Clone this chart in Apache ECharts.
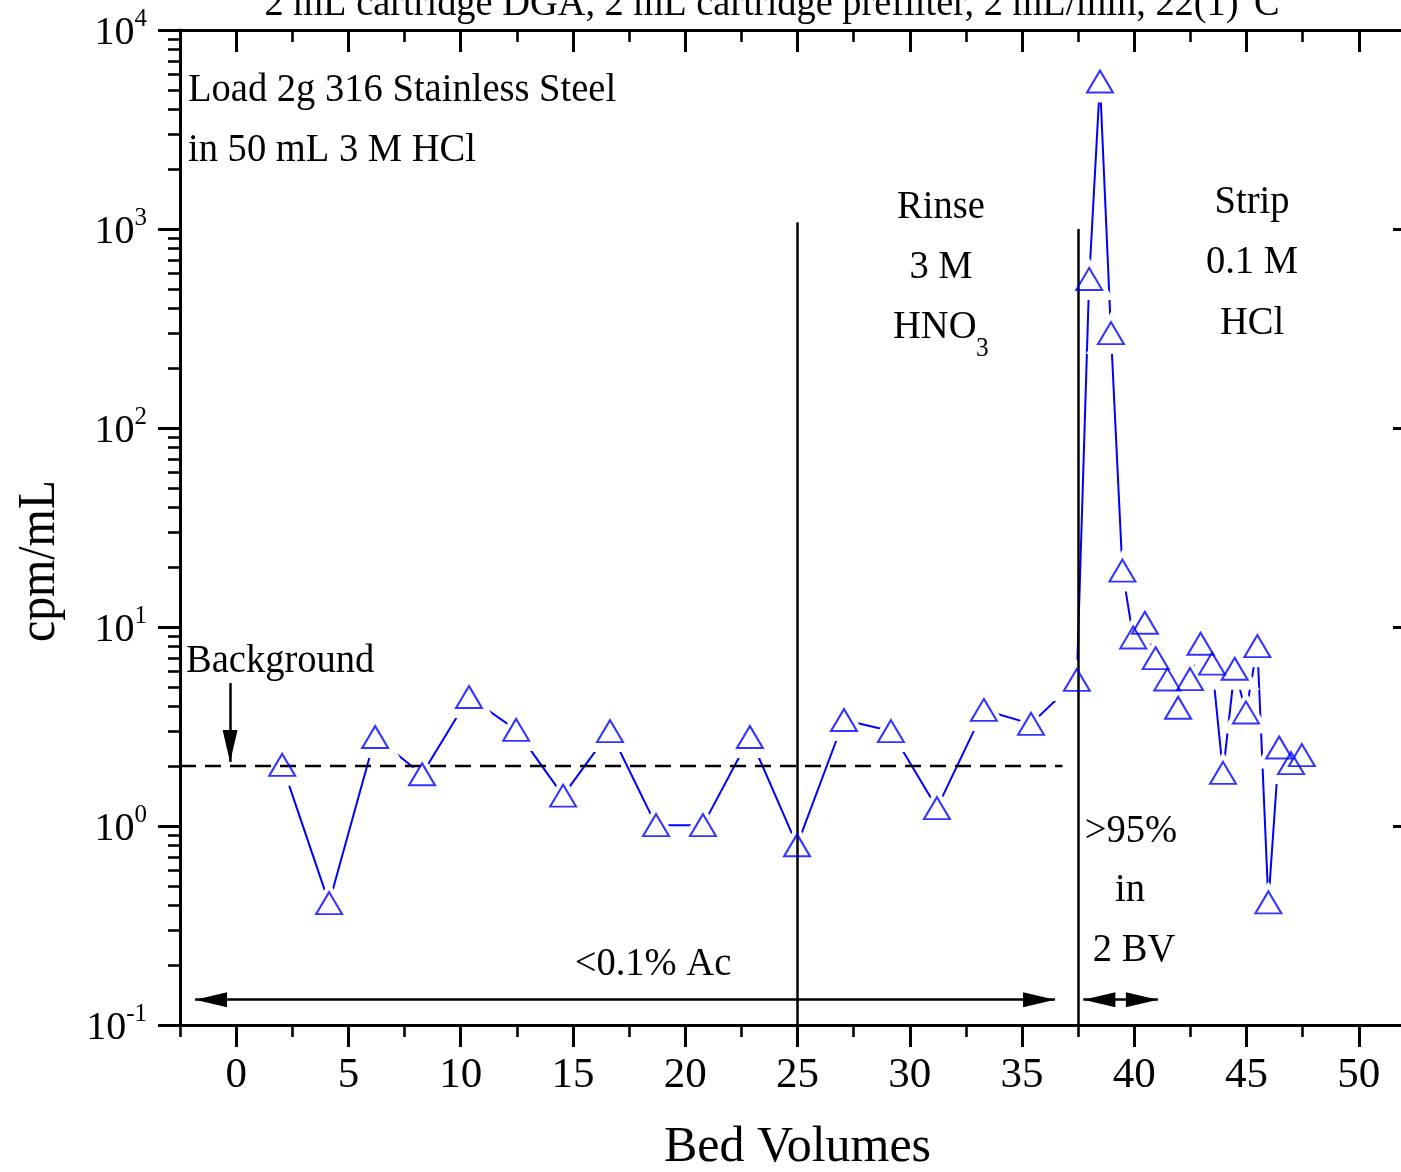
<!DOCTYPE html>
<html>
<head>
<meta charset="utf-8">
<script src="https://cdn.jsdelivr.net/npm/echarts@6/dist/echarts.min.js"></script>
<style>
  html, body { margin: 0; padding: 0; background: #ffffff; }
  #chart { width: 1401px; height: 1172px; }
</style>
</head>
<body>
<div id="chart"></div>
<script>
// Bed volumes passed through the cartridge and measured activity of each fraction
const bedVolumes = [
  2.05, 4.14, 6.19, 8.28, 10.37, 12.47, 14.56, 16.65, 18.70, 20.79,
  22.88, 24.98, 27.07, 29.16, 31.21, 33.30, 35.40, 37.44,
  37.99, 38.47, 38.96, 39.47, 39.95, 40.47, 40.95, 41.47, 41.95, 42.48,
  42.95, 43.46, 43.95, 44.47, 44.97, 45.48, 45.97, 46.45, 46.98, 47.46
];
const activity = [
  2.03, 0.41, 2.80, 1.82, 4.45, 3.04, 1.42, 3.00, 1.01, 1.01,
  2.80, 0.80, 3.41, 3.00, 1.23, 3.83, 3.26, 5.42,
  561, 5510, 300, 19.2, 8.86, 10.5, 6.97, 5.45, 3.93, 5.47,
  8.24, 6.54, 1.85, 6.17, 3.72, 8.01, 0.413, 2.48, 2.07, 2.27
];

// Background count rate and the span it is drawn over
const backgroundLevel = 2.0;
const backgroundSpan = [-2.5, 36.8];

// Load / rinse and rinse / strip boundaries (bed volume, top of line)
const phaseBoundaries = [[25, 1080], [37.5, 1000]];

// Axis ticks
const xMajorTicks = [0, 5, 10, 15, 20, 25, 30, 35, 40, 45, 50];
const xMinorTicks = [-2.5, 2.5, 7.5, 12.5, 17.5, 22.5, 27.5, 32.5, 37.5, 42.5, 47.5, 52.5];
const yMajorTicks = [0.1, 1, 10, 100, 1000, 10000];
const yTickExponents = ['-1', '0', '1', '2', '3', '4'];
const yMinorTicks = [
  0.2, 0.3, 0.4, 0.5, 0.6, 0.7, 0.8, 0.9,
  2, 3, 4, 5, 6, 7, 8, 9,
  20, 30, 40, 50, 60, 70, 80, 90,
  200, 300, 400, 500, 600, 700, 800, 900,
  2000, 3000, 4000, 5000, 6000, 7000, 8000, 9000
];

const FONT = '"Liberation Serif", "Times New Roman", serif';
const BLUE = '#0000ff';
const points = bedVolumes.map((x, i) => [x, activity[i]]);

const X_RANGE = { min: -2.5, max: 52.5 };
const Y_RANGE = { min: 0.1, max: 10000 };

function xAxisDef(opts) {
  return Object.assign({
    type: 'value', gridIndex: 0, min: X_RANGE.min, max: X_RANGE.max,
    splitLine: { show: false },
    axisLine: { show: false, onZero: false },
    axisLabel: { show: false },
    axisPointer: { show: false }
  }, opts);
}
function yAxisDef(opts) {
  return Object.assign({
    type: 'log', logBase: 10, gridIndex: 0, min: Y_RANGE.min, max: Y_RANGE.max,
    splitLine: { show: false },
    minorTick: { show: false },
    axisLine: { show: false, onZero: false },
    axisLabel: { show: false },
    axisPointer: { show: false }
  }, opts);
}
const axisLine = { show: true, onZero: false, lineStyle: { color: '#000', width: 3 } };
const majorTick = (values, inside) => ({ show: true, inside, length: 22, customValues: values, lineStyle: { color: '#000', width: 3 } });
const minorTickDef = (values, inside) => ({ show: true, inside, length: 12, customValues: values, lineStyle: { color: '#000', width: 2.6 } });

// exponent label for a decade tick
function decadeLabel(v) {
  let i = yMajorTicks.findIndex(t => Math.abs(t - v) <= t * 1e-6);
  const exp = i >= 0 ? yTickExponents[i] : String(Math.round(Math.log10(v)));
  return '{b|10}{s|' + exp + '}';
}

function text(str, x, y, extra, elementExtra) {
  return Object.assign({
    type: 'text', x, y, z: 20, silent: true, scaleX: 0.94,
    style: Object.assign({
      text: str, fill: '#000', fontFamily: FONT, fontSize: 41,
      align: 'center', verticalAlign: 'middle'
    }, extra || {})
  }, elementExtra || {});
}

const arrowHead = [15, 32];
function arrowEnd(coord, withHead) {
  return withHead
    ? { coord, symbol: 'triangle', symbolSize: arrowHead, symbolOffset: [0, 16] }
    : { coord, symbol: 'none' };
}

const chart = echarts.init(document.getElementById('chart'), null, { renderer: 'canvas' });

chart.setOption({
  animation: false,
  backgroundColor: '#ffffff',
  grid: { left: 180, top: 30, width: 1235, height: 995, containLabel: false, outerBoundsMode: 'none' },
  xAxis: [
    xAxisDef({
      position: 'bottom',
      axisLine,
      axisTick: majorTick(xMajorTicks, false),
      axisLabel: {
        show: true, customValues: xMajorTicks, margin: 29,
        color: '#000', fontFamily: FONT, fontSize: 43
      },
      name: 'Bed Volumes', nameLocation: 'middle', nameGap: 98,
      nameTextStyle: { color: '#000', fontFamily: FONT, fontSize: 50 }
    }),
    xAxisDef({ position: 'bottom', axisTick: minorTickDef(xMinorTicks, false) }),
    xAxisDef({ position: 'top', axisLine, axisTick: majorTick(xMajorTicks, true) }),
    xAxisDef({ position: 'top', axisTick: minorTickDef(xMinorTicks, true) })
  ],
  yAxis: [
    yAxisDef({
      position: 'left',
      axisLine,
      axisTick: majorTick(yMajorTicks, false),
      axisLabel: {
        show: true, customValues: yMajorTicks, margin: 33,
        color: '#000', fontFamily: FONT,
        formatter: decadeLabel,
        rich: {
          b: { fontSize: 40, fontFamily: FONT, color: '#000', padding: [6, 0, 0, 0] },
          s: { fontSize: 25, fontFamily: FONT, color: '#000', verticalAlign: 'top' }
        }
      }
    }),
    yAxisDef({ position: 'left', axisTick: minorTickDef(yMinorTicks, false) }),
    yAxisDef({ position: 'right', axisLine, axisTick: majorTick(yMajorTicks, true) })
  ],
  series: [
    {
      name: 'cpm/mL', type: 'line', data: points, xAxisIndex: 0, yAxisIndex: 0,
      showSymbol: false, z: 2, silent: true,
      lineStyle: { color: BLUE, width: 2 }
    },
    {
      // white halo behind every marker so the connecting line stops short of it
      name: 'halo', type: 'scatter', data: points, xAxisIndex: 0, yAxisIndex: 0,
      symbol: 'triangle', symbolSize: [50, 42], z: 3, silent: true,
      itemStyle: { color: '#ffffff', opacity: 1 }
    },
    {
      name: 'Background', type: 'line', xAxisIndex: 0, yAxisIndex: 0,
      data: backgroundSpan.map(x => [x, backgroundLevel]),
      showSymbol: false, z: 4, silent: true,
      lineStyle: { color: '#000', width: 2.5, type: [16, 9] },
      markLine: {
        silent: true, z: 4, animation: false,
        label: { show: false },
        emphasis: { disabled: true },
        lineStyle: { color: '#000', width: 2.5, type: 'solid' },
        data: [
          ...phaseBoundaries.map(([x, top]) => [arrowEnd([x, Y_RANGE.min], false), arrowEnd([x, top], false)]),
          [arrowEnd([-1.83, 0.134], true), arrowEnd([36.47, 0.134], true)],
          [arrowEnd([37.73, 0.134], true), arrowEnd([41.05, 0.134], true)],
          [arrowEnd([-0.27, 5.23], false), arrowEnd([-0.27, 2.10], true)]
        ]
      }
    },
    {
      name: 'markers', type: 'scatter', data: points, xAxisIndex: 0, yAxisIndex: 0,
      symbol: 'triangle', symbolSize: [26, 22], z: 5, silent: true,
      itemStyle: { color: 'rgba(255,255,255,0)', borderColor: BLUE, borderWidth: 2 }
    }
  ],
  graphic: {
    elements: [
      text('2 mL cartridge DGA, 2 mL cartridge prefilter, 2 mL/min, 22(1)\u00B0C', 772, 4, { fontSize: 40 }, { scaleX: 0.96 }),
      text('cpm/mL', 40, 561, { fontSize: 52 }, { rotation: Math.PI / 2, scaleX: 0.92 }),
      text('Load 2g 316 Stainless Steel', 188, 90, { align: 'left' }),
      text('in 50 mL 3 M HCl', 188, 150, { align: 'left' }),
      text('Background', 186, 661, { align: 'left' }),
      text('Rinse', 941, 207),
      text('3 M', 941, 267),
      text('HNO', 893, 327, { align: 'left' }),
      text('3', 976, 349, { align: 'left', fontSize: 27 }),
      text('Strip', 1252, 202),
      text('0.1 M', 1252, 262),
      text('HCl', 1252, 323),
      text('>95%', 1131, 831),
      text('in', 1130, 890),
      text('2 BV', 1134, 950),
      text('<0.1% Ac', 653, 964)
    ]
  }
});
</script>
</body>
</html>
